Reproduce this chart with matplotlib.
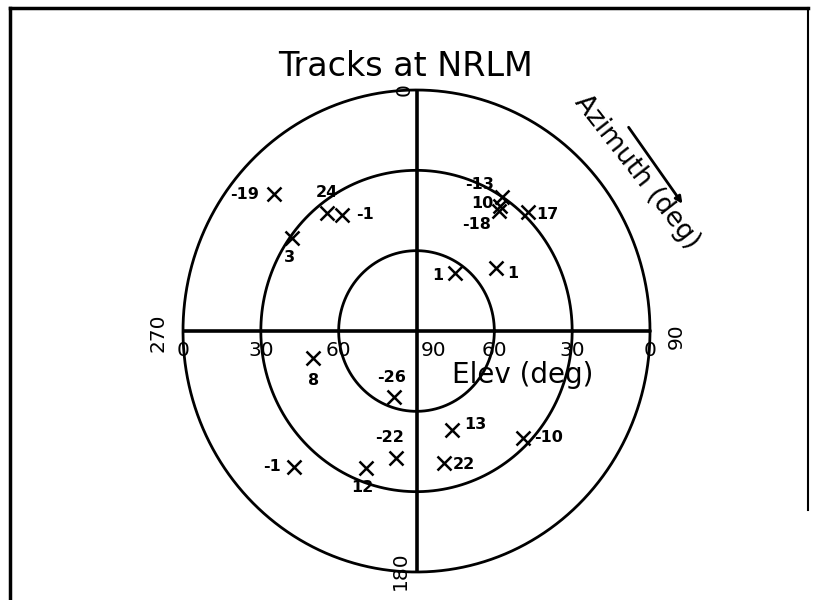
import numpy as np
import matplotlib.pyplot as plt
from matplotlib.lines import Line2D

# track labels and their sky positions (azimuth, elevation in degrees)
labels = ["-19", "24", "-1", "3", "8", "-13", "10", "-18", "17",
          "1", "1", "-26", "-22", "-1", "12", "13", "22", "-10"]
azim = [313, 322, 326.5, 306, 256, 33.3, 34.6, 35.3, 44,
        34.4, 52.5, 199.5, 189.5, 223, 201, 159.6, 168, 134.2]
elev = [15, 34, 38, 30.6, 49, 30.1, 33.4, 35.1, 28.3,
        63.8, 51.4, 63.9, 42, 20.8, 35.2, 50.6, 39.6, 32.8]

elev_rings = [0, 30, 60]
elev_ticks = [0, 30, 60, 90, 60, 30, 0]
az_ticks = ["0", "90", "180", "270"]

# label offsets (pixels, right / up)
offs = [(-30, 0), (0, 20), (23, 0), (-2, -20), (0, -23), (-22, 12),
        (-18, 3), (-22, -13), (20, -2), (-17, -2), (17, -5), (-2, 19),
        (-6, 20), (-22, 0), (-3, -20), (23, 5), (20, -1), (26, 0)]

W, H = 817, 600
fig = plt.figure(figsize=(W / 100, H / 100), dpi=100)
ax = fig.add_axes([183 / W, 28 / H, 467 / W, 482 / H])
ax.set_xlim(-90, 90)
ax.set_ylim(-90, 90)
ax.axis("off")

t = np.linspace(0, 2 * np.pi, 400)
for e in elev_rings:
    r = 90 - e
    ax.plot(r * np.cos(t), r * np.sin(t), color="black", lw=2, clip_on=False)
ax.plot([-90, 90], [0, 0], color="black", lw=2.6)
ax.plot([0, 0], [-90, 90], color="black", lw=2.6)

# elevation tick labels along the horizontal line
xpos = [-90, -60, -30, 0, 30, 60, 90]
for xp, lab in zip(xpos, elev_ticks):
    dx = 17 if lab == 90 else 0
    ax.annotate(str(lab), (xp, 0), xytext=(dx, -19), textcoords="offset pixels",
                ha="center", va="center", fontsize=14.5, annotation_clip=False)

# azimuth tick labels (rotated)
fig.text(404 / W, 1 - 90 / H, az_ticks[0], rotation=90, ha="center", va="center", fontsize=14.5)
fig.text(676 / W, 1 - 336 / H, az_ticks[1], rotation=90, ha="center", va="center", fontsize=14.5)
fig.text(400 / W, 1 - 571 / H, az_ticks[2], rotation=90, ha="center", va="center", fontsize=14.5)
fig.text(158 / W, 1 - 333 / H, az_ticks[3], rotation=90, ha="center", va="center", fontsize=14.5)

a = np.radians(azim)
rr = 90 - np.array(elev)
px = rr * np.sin(a)
py = rr * np.cos(a)
ax.plot(px, py, "x", color="black", ms=10, mew=1.8, ls="none")
for x, y, lab, o in zip(px, py, labels, offs):
    ax.annotate(lab, (x, y), xytext=o, textcoords="offset pixels",
                ha="center", va="center", fontsize=11.5, fontweight="bold")

fig.text(405 / W, 1 - 67 / H, "Tracks at NRLM", ha="center", va="center", fontsize=24)
fig.text(523 / W, 1 - 375 / H, "Elev (deg)", ha="center", va="center", fontsize=20)
fig.text(637 / W, 1 - 172 / H, "Azimuth (deg)", ha="center", va="center",
         fontsize=19, rotation=-52)
ax.annotate("", xy=(684, H - 206), xycoords="figure pixels",
            xytext=(627, H - 125), textcoords="figure pixels",
            arrowprops=dict(arrowstyle="-|>", color="black", lw=2, mutation_scale=10))

# frame around the plot
fig.add_artist(Line2D([10 / W, 10 / W], [0, 1 - 8 / H], color="black", lw=2.5))
fig.add_artist(Line2D([10 / W, 808 / W], [1 - 8 / H, 1 - 8 / H], color="black", lw=2.5))
fig.add_artist(Line2D([808 / W, 808 / W], [1 - 8 / H, 1 - 510 / H], color="black", lw=1.5))

fig.savefig("out.png", dpi=100)
